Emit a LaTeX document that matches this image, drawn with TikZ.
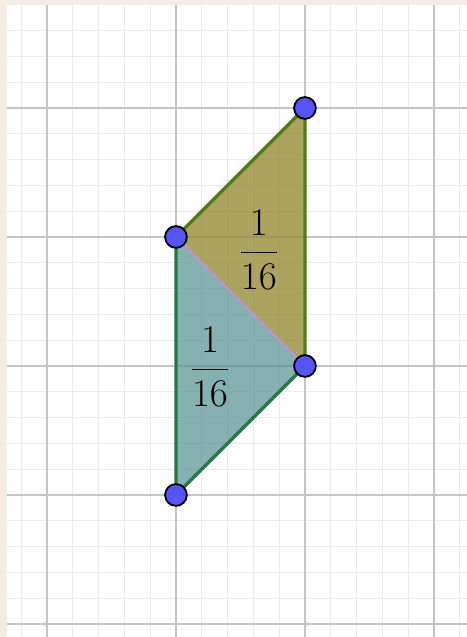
\documentclass[tikz,border=0pt]{standalone}
\usepackage{amsmath}
\usepackage{tikz}
\usetikzlibrary{positioning}
\definecolor{paper}{RGB}{242,238,227}
\definecolor{majorgray}{RGB}{196,196,196}
\definecolor{minorgray}{RGB}{234,234,234}
\definecolor{olivefill}{RGB}{150,140,55}
\definecolor{tealfill}{RGB}{95,150,150}
\definecolor{oliveedge}{RGB}{80,125,25}
\definecolor{tealedge}{RGB}{40,118,70}
\definecolor{diagedge}{RGB}{185,150,215}
\definecolor{ptblue}{RGB}{85,85,250}
\begin{document}
\begin{tikzpicture}[x=2cm,y=2cm,
      point node/.style={circle,draw=black,fill=ptblue,line width=0.8pt,inner sep=0pt,minimum size=9.6pt},
      label node/.style={font=\fontsize{18.5}{22}\selectfont},
      upper tri/.style={fill=olivefill,fill opacity=0.8},
      lower tri/.style={fill=tealfill,fill opacity=0.75},
      minor grid/.style={minorgray,line width=0.55pt,step=0.2},
      major grid/.style={majorgray,line width=0.9pt,step=1}]
      \fill[paper] (-1.364,-2.101) rectangle (2.256,2.837);
      \fill[white] (-1.310,-2.101) rectangle (2.256,2.798);
      \begin{scope}
        \clip (-1.310,-2.101) rectangle (2.256,2.798);
        \draw[minor grid] (-1.4,-2.2) grid (2.4,2.9);
        \draw[major grid] (-1.4,-2.2) grid (2.4,2.9);
      \end{scope}

      \coordinate (a) at (0,1);
      \coordinate (b) at (1,2);
      \coordinate (c) at (1,0);
      \coordinate (d) at (0,-1);

      \fill[upper tri] (a) -- (b) -- (c) -- cycle;
      \fill[lower tri] (a) -- (c) -- (d) -- cycle;

      \draw[oliveedge,line width=1.5pt] (a) -- (b) -- (c);
      \draw[tealedge,line width=1.5pt] (a) -- (d) -- (c);
      \draw[diagedge,line width=1pt] (a) -- (c);

      \node[label node] (top) at (0.643,0.899) {$\dfrac{1}{16}$};
      \node[label node] (bottom) at (0.264,-0.008) {$\dfrac{1}{16}$};

      \node[point node] (pa) at (a) {};
      \node[point node] (pb) at (b) {};
      \node[point node] (pc) at (c) {};
      \node[point node] (pd) at (d) {};
    \end{tikzpicture}
\end{document}
